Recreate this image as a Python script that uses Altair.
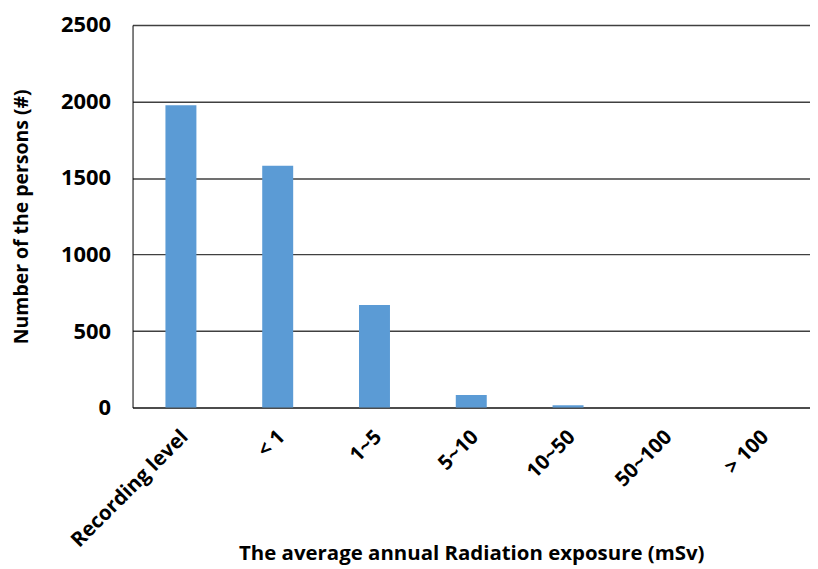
import altair as alt
import pandas as pd

categories = ["Recording level", "< 1", "1~5", "5~10", "10~50", "50~100", "> 100"]
persons = [1975, 1580, 670, 82, 15, 0, 0]

df = pd.DataFrame({"cat": categories, "n": persons})

FONT = "Open Sans"

chart = alt.Chart(df).mark_bar(color="#5B9BD5").encode(
    x=alt.X("cat:N", sort=categories,
            scale=alt.Scale(paddingInner=0.68, paddingOuter=0.34),
            axis=alt.Axis(title="The average annual Radiation exposure (mSv)",
                          labelAngle=-45, labelAlign="right", labelBaseline="middle",
                          labelFont=FONT, labelFontSize=20.5, labelFontWeight="bold",
                          labelColor="black", labelPadding=26, labelOffset=4,
                          titleFont=FONT, titleFontSize=20.5, titleFontWeight="bold",
                          titleColor="black", titleY=147, titleBaseline="middle",
                          ticks=False, domainColor="#404040", domainWidth=1.5,
                          grid=False)),
    y=alt.Y("n:Q", scale=alt.Scale(domain=[0, 2500]),
            axis=alt.Axis(title="Number of the persons (#)", values=[0, 500, 1000, 1500, 2000, 2500],
                          format="d",
                          labelFont=FONT, labelFontSize=22, labelFontWeight="bold",
                          labelColor="black", labelPadding=22,
                          titleFont=FONT, titleFontSize=19.5, titleFontWeight="bold",
                          titleColor="black", titleX=-111, titleBaseline="middle",
                          ticks=False, domainColor="black", domainWidth=1,
                          grid=True, gridColor="#404040", gridWidth=1.5, gridOpacity=1)),
).properties(
    width=680, height=384,
    autosize=alt.AutoSizeParams(type="none"),
    padding={"left": 125, "top": 16, "right": 0, "bottom": 161},
).configure_view(stroke=None)

chart.save("out.html", embed_options={"renderer": "svg", "actions": False})
